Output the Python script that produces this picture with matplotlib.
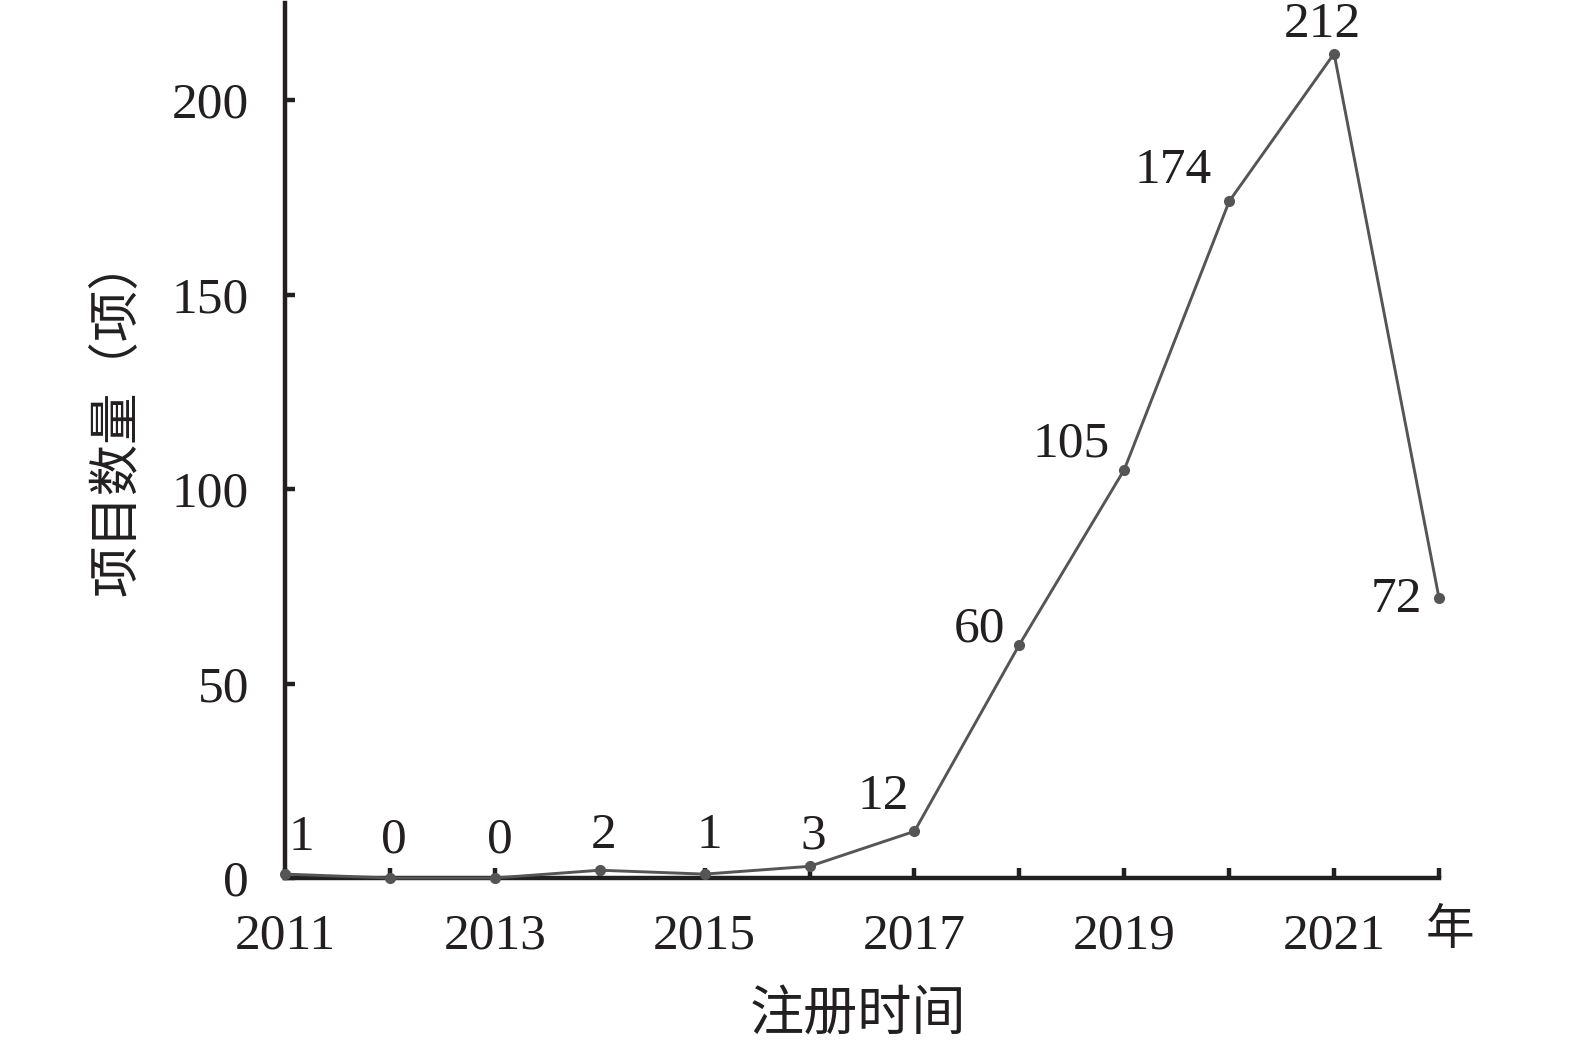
import matplotlib
matplotlib.use("Agg")
import matplotlib.pyplot as plt

years = [2011, 2012, 2013, 2014, 2015, 2016, 2017, 2018, 2019, 2020, 2021, 2022]
counts = [1, 0, 0, 2, 1, 3, 12, 60, 105, 174, 212, 72]
xtick_labels = ["2011", "", "2013", "", "2015", "", "2017", "", "2019", "", "2021", ""]
yticks = [0, 50, 100, 150, 200]
xlabel = "注册时间"
ylabel = "项目数量（项）"
unit = "年"

# label offsets in pixels (styling)
offsets = [(16, 36), (4, 38), (5, 38), (4, 34), (5, 38), (4, 30),
           (-31, 35), (-40, 15), (-53, 25), (-56, 31), (-12, 29), (-43, -2)]

serif = ["Liberation Serif", "DejaVu Serif"]
cjk = ["Noto Sans CJK SC", "DejaVu Sans"]
dark = "#231f20"

fig = plt.figure(figsize=(15.75, 10.51), dpi=100)
ax = fig.add_axes([285/1575, 1 - 878/1051, (1439 - 285)/1575, (878 - 3)/1051])

ax.plot(years, counts, color="#555555", lw=2.1, marker="o", ms=7, zorder=3, clip_on=False)
ax.set_xlim(2011, 2022)
ax.set_ylim(0, 225)

for sp in ["top", "right"]:
    ax.spines[sp].set_visible(False)
for sp in ["left", "bottom"]:
    ax.spines[sp].set_linewidth(3.2)
    ax.spines[sp].set_color(dark)

ax.set_xticks(years)
ax.set_xticklabels(xtick_labels)
ax.set_yticks(yticks)
ax.tick_params(axis="both", direction="in", length=7, width=3.2, color=dark,
               labelsize=37, labelcolor=dark)
ax.tick_params(axis="x", pad=25)
ax.tick_params(axis="y", pad=26)
for lab in ax.get_xticklabels() + ax.get_yticklabels():
    lab.set_family(serif)

for x, y, (dx, dy) in zip(years, counts, offsets):
    ax.annotate(str(y), (x, y), xytext=(dx, dy), textcoords="offset pixels",
                ha="center", va="center", fontsize=37, family=serif, color=dark)

fig.text(1450/1575, 1 - 930/1051, unit, ha="center", va="center",
         fontsize=35, family=cjk, color=dark)
fig.text(858/1575, 1 - 1014/1051, xlabel, ha="center", va="center",
         fontsize=39, family=cjk, color=dark)
fig.text(117/1575, 1 - 416/1051, ylabel, ha="center", va="center", rotation=90,
         fontsize=37, family=cjk, color=dark)

fig.savefig("out.png", dpi=100)
